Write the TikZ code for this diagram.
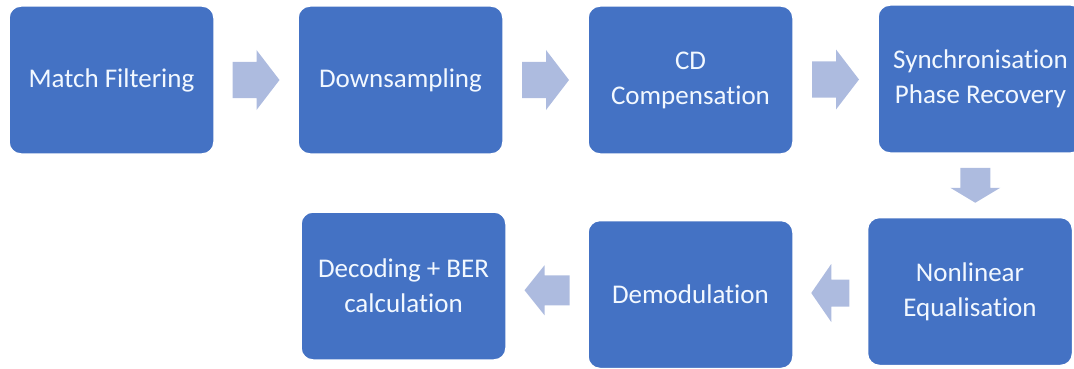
\documentclass[tikz,border=0pt]{standalone}
\usepackage{fontspec}
\setmainfont[Ligatures=NoCommon]{Carlito}
\usetikzlibrary{calc}
\definecolor{boxblue}{HTML}{4472C4}
\definecolor{arrowblue}{HTML}{ADBBDF}
\definecolor{labelwhite}{HTML}{F2F8FF}
\tikzset{
  stage/.style={draw=white, line width=1.5pt, fill=boxblue, rounded corners=12pt,
    minimum width=205pt, minimum height=148pt, inner sep=0pt,
    text=labelwhite, align=center, font=\fontsize{27}{35}\selectfont},
  flow/.style={fill=arrowblue, draw=none}
}
% block arrow centred at #1, pointing in direction #2 (degrees, canvas);
% #3 total length, #4 head width, #5 shaft width, #6 head length
\newcommand{\flowarrow}[6]{%
  \begin{scope}[shift={(#1)}, rotate=#2]
    \fill[flow] (-#3/2,-#5/2) -- (#3/2-#6,-#5/2) -- (#3/2-#6,-#4/2) -- (#3/2,0)
      -- (#3/2-#6,#4/2) -- (#3/2-#6,#5/2) -- (-#3/2,#5/2) -- cycle;
  \end{scope}}
\begin{document}
\begin{tikzpicture}[x=1pt, y=-1pt]
\useasboundingbox (0,0) rectangle (1074,369);
% top row
\node[stage] (mf)   at (111.5,80) {Match Filtering};
\node[stage] (ds)   at (400.5,80) {Downsampling};
\node[stage] (cd)   at (690.5,80) {CD\\Compensation};
\node[stage] (sync) at (980.5,79) {Synchronisation\\Phase Recovery};
% bottom row
\node[stage] (nle)  at (970,291.5) {Nonlinear\\Equalisation};
\node[stage] (dem)  at (690.5,294.5) {Demodulation};
\node[stage] (dec)  at (403.5,286) {Decoding + BER\\calculation};
% connectors between consecutive stages
\path ($(mf.east)!0.5!(ds.west)$) coordinate (a1);
\path ($(ds.east)!0.5!(cd.west)$) coordinate (a2);
\path ($(cd.east)!0.5!(sync.west)$) coordinate (a3);
\path ($(sync.south)!0.5!(nle.north)$) coordinate (a4);
\path ($(nle.west)!0.5!(dem.east)$) coordinate (a5);
\path ($(dem.west)!0.5!(dec.east)$) coordinate (a6);
\flowarrow{a1}{0}{47}{60}{36}{23}
\flowarrow{a2}{0}{47}{60}{36}{23}
\flowarrow{a3}{0}{47}{60}{36}{23}
\flowarrow{a4}{-90}{35}{50}{30}{15}
\flowarrow{a5}{180}{38}{58}{27}{20}
\flowarrow{a6}{180}{45}{50}{30}{20}
\end{tikzpicture}
\end{document}
